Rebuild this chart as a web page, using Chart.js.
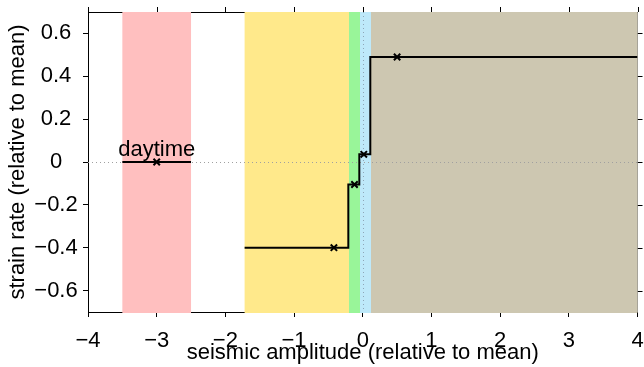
<!DOCTYPE html>
<html>
<head>
<meta charset="utf-8">
<script src="https://cdn.jsdelivr.net/npm/chart.js@4/dist/chart.umd.min.js"></script>
<style>
html,body{margin:0;padding:0;background:#fff;}
#wrap{width:644px;height:367px;position:relative;}
</style>
</head>
<body>
<div id="wrap"><canvas id="c" width="644" height="367"></canvas></div>
<script>
// ---- data ----
const xTicks = [-4, -3, -2, -1, 0, 1, 2, 3, 4];
const yTicks = [-0.6, -0.4, -0.2, 0, 0.2, 0.4, 0.6];
const bandStart = [-3.5, -1.72, -0.2, -0.04, 0.12];
const bandEnd   = [-2.5, -0.2, -0.04, 0.12, 4];
const dayX = [-3.5, -2.5];
const dayY = [0, 0];
const stepX = [-1.72, -0.21, -0.05, 0.11, 4];
const stepY = [-0.4, -0.105, 0.036, 0.49, 0.49];
const markerX = [-3, -0.42, -0.12, 0.015, 0.5];
const markerY = [0, -0.4, -0.105, 0.036, 0.49];
const dayLabel = 'daytime';

// ---- styles ----
const bandColors = ['#ffbfbf', '#ffe98b', '#99f599', '#bee9fa', '#cdc7b1'];
const FONT = 'Liberation Sans, Arial, Helvetica, sans-serif';
const FS = 22;
const fmt = v => (Math.round(v * 10) / 10).toString().replace('-', '\u2212');

const bandsPlugin = {
  id: 'bands',
  beforeDatasetsDraw(chart) {
    const {ctx, chartArea: a, scales: {x, y}} = chart;
    ctx.save();
    // frame (top/right) + outward ticks on top/right
    ctx.strokeStyle = '#000';
    ctx.lineWidth = 1;
    ctx.beginPath();
    ctx.moveTo(a.left, a.top + 0.5); ctx.lineTo(a.right, a.top + 0.5);
    ctx.moveTo(a.right - 0.5, a.top); ctx.lineTo(a.right - 0.5, a.bottom);
    xTicks.forEach(v => { const px = Math.round(x.getPixelForValue(v)) + 0.5; ctx.moveTo(px, a.top); ctx.lineTo(px, a.top - 5); });
    yTicks.forEach(v => { const py = Math.round(y.getPixelForValue(v)) + 0.5; ctx.moveTo(a.right, py); ctx.lineTo(a.right + 5, py); });
    ctx.stroke();
    // bands
    for (let i = 0; i < bandStart.length; i++) {
      const x0 = x.getPixelForValue(bandStart[i]);
      const x1 = x.getPixelForValue(bandEnd[i]);
      ctx.fillStyle = bandColors[i];
      ctx.fillRect(x0, a.top, x1 - x0, a.bottom - a.top + 1);
    }
    // zero reference lines (dotted)
    ctx.lineWidth = 1;
    ctx.setLineDash([1, 3]);
    ctx.strokeStyle = '#a0a0a0';
    ctx.beginPath();
    const y0 = Math.round(y.getPixelForValue(0)) + 0.5;
    ctx.moveTo(a.left, y0); ctx.lineTo(a.right, y0);
    ctx.stroke();
    ctx.strokeStyle = '#8fa6b8';
    ctx.beginPath();
    const x0 = Math.round(x.getPixelForValue(0)) + 0.5;
    ctx.moveTo(x0, a.top); ctx.lineTo(x0, a.bottom);
    ctx.stroke();
    ctx.setLineDash([]);
    ctx.restore();
  },
  afterDatasetsDraw(chart) {
    const {ctx, chartArea: a, scales: {x, y}} = chart;
    ctx.save();
    ctx.fillStyle = '#000';
    ctx.font = FS + 'px ' + FONT;
    ctx.textAlign = 'center';
    ctx.textBaseline = 'alphabetic';
    ctx.fillText(dayLabel, x.getPixelForValue(markerX[0]), y.getPixelForValue(markerY[0]) - 6);
    // y tick labels, centred in the label column
    ctx.textBaseline = 'middle';
    yTicks.forEach(v => ctx.fillText(fmt(v), 56, y.getPixelForValue(v)));
    ctx.restore();
  }
};

new Chart(document.getElementById('c'), {
  type: 'scatter',
  data: {
    datasets: [
      {
        data: dayX.map((v, i) => ({x: v, y: dayY[i]})),
        showLine: true, borderColor: '#000', borderWidth: 2, pointRadius: 0
      },
      {
        data: stepX.map((v, i) => ({x: v, y: stepY[i]})),
        showLine: true, stepped: true, borderColor: '#000', borderWidth: 2, pointRadius: 0
      },
      {
        data: markerX.map((v, i) => ({x: v, y: markerY[i]})),
        showLine: false, pointStyle: 'crossRot', pointRadius: 4.5,
        borderColor: '#000', borderWidth: 2, backgroundColor: '#000'
      }
    ]
  },
  options: {
    responsive: false,
    animation: false,
    events: [],
    layout: {padding: {top: 12, right: 4, left: 0, bottom: 0}},
    plugins: {legend: {display: false}, tooltip: {enabled: false}},
    scales: {
      x: {
        type: 'linear', min: -4, max: 4,
        afterBuildTicks: s => { s.ticks = xTicks.map(v => ({value: v})); },
        afterFit: s => { s.height = 55; s.paddingLeft = 0; s.paddingRight = 0; },
        grid: {display: true, drawOnChartArea: false, drawTicks: true, tickLength: 5, color: '#000'},
        border: {display: true, color: '#000', width: 1},
        ticks: {color: '#000', font: {family: FONT, size: FS}, padding: 11, maxRotation: 0,
          callback: v => fmt(v)},
        title: {display: true, text: 'seismic amplitude (relative to mean)', color: '#000',
          font: {family: FONT, size: FS}, padding: {top: 0, bottom: 1}}
      },
      y: {
        type: 'linear', min: -0.7, max: 0.7,
        afterBuildTicks: s => { s.ticks = yTicks.map(v => ({value: v})); },
        afterFit: s => { s.width = 88; s.paddingTop = 0; s.paddingBottom = 0; },
        grid: {display: true, drawOnChartArea: false, drawTicks: true, tickLength: 5, color: '#000'},
        border: {display: true, color: '#000', width: 1},
        ticks: {display: false},
        title: {display: true, text: 'strain rate (relative to mean)', color: '#000',
          font: {family: FONT, size: FS}, padding: {top: 5, bottom: 0}}
      }
    }
  },
  plugins: [bandsPlugin]
});
</script>
</body>
</html>
